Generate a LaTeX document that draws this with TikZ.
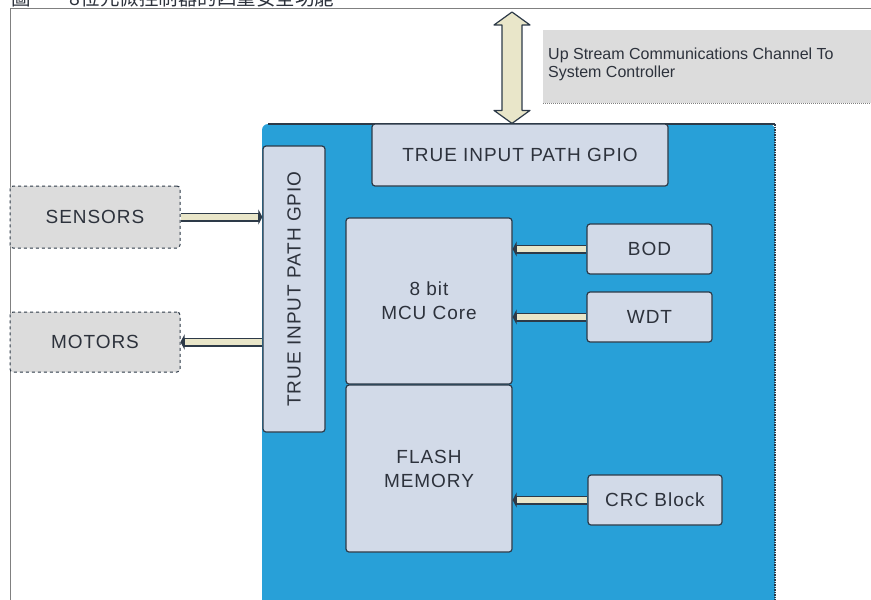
\documentclass[tikz,border=0pt]{standalone}
\usepackage{fontspec}
\setmainfont{Liberation Sans}
\newfontfamily\blockfont[LetterSpace=5]{Liberation Sans}
\newfontfamily\cjkfont{Noto Sans CJK TC}
\usetikzlibrary{positioning,arrows.meta,calc}

\definecolor{chipblue}{RGB}{40,160,216}
\definecolor{blockfill}{RGB}{210,218,232}
\definecolor{greyfill}{RGB}{220,220,220}
\definecolor{busfill}{RGB}{233,230,201}
\definecolor{edgedark}{RGB}{45,58,72}
\definecolor{labeltext}{RGB}{45,50,60}

\tikzset{
    blocklabel/.style={font=\blockfont\fontsize{19}{24}\selectfont, text=labeltext, align=center},
    chipblock/.style={blocklabel, draw=edgedark, line width=1.2pt, fill=blockfill,
        rounded corners=3pt, inner sep=0pt},
    sidebox/.style={blocklabel, draw=edgedark, dashed, line width=1pt, fill=greyfill,
        rounded corners=3pt, inner sep=0pt},
    busout/.style={line width=9pt, draw=edgedark, -{Triangle[length=4pt,width=15pt]}},
    busin/.style={line width=6pt, draw=busfill, shorten >=4pt},
    upstream/.style={draw=edgedark, fill=busfill, line width=1.2pt, line join=round},
}

\begin{document}
\begin{tikzpicture}[x=1pt, y=-1pt]
    \useasboundingbox (0,0) rectangle (871,600);

    % caption, cut at the top edge
    \node[anchor=base west, inner sep=0pt, text=labeltext,
          font=\cjkfont\fontsize{19.5}{20}\selectfont] (caption) at (11,5)
          {圖一　8位元微控制器的四重安全功能};

    % outer frame
    \draw[gray, line width=1pt] (10,610) -- (10,8) -- (880,8);

    % chip area
    \fill[chipblue, rounded corners=6pt] (262,620) -- (262,124) -- (775,124) -- (775,620) -- cycle;
    \draw[edgedark, line width=1.5pt] (268,124) -- (775,124);
    \draw[edgedark, line width=1.5pt, densely dotted] (775,124) -- (775,600);

    % note
    \node[fill=greyfill, minimum width=337pt, minimum height=73pt, inner sep=0pt,
          anchor=north west] (note) at (543,30) {};
    \draw[gray, densely dotted, line width=1pt] (note.south west) -- (note.south east);
    \node[anchor=west, align=left, text=labeltext, inner sep=0pt,
          font=\fontsize{16}{18}\selectfont] (notetext) at (548,64)
          {Up Stream Communications Channel To\\System Controller};

    % blocks
    \node[sidebox, minimum width=170pt, minimum height=62pt] (sens) at (95,217) {SENSORS};
    \node[sidebox, minimum width=170pt, minimum height=60pt] (motor) at (95,342) {MOTORS};
    \node[chipblock, minimum width=62pt, minimum height=286pt] (gpiol) at (294,289) {};
    \node[blocklabel, rotate=90] at (gpiol) {TRUE INPUT PATH GPIO};
    \node[chipblock, minimum width=296pt, minimum height=62pt] (gpiot) at (520,155) {TRUE INPUT PATH GPIO};
    \node[chipblock, minimum width=166pt, minimum height=166pt] (mcu) at (429,301) {8 bit\\MCU Core};
    \node[chipblock, minimum width=166pt, minimum height=167pt] (flash) at (429,468.5) {FLASH\\MEMORY};
    \node[chipblock, minimum width=125pt, minimum height=50pt] (bod) at (649.5,249) {BOD};
    \node[chipblock, minimum width=125pt, minimum height=50pt] (wdt) at (649.5,317) {WDT};
    \node[chipblock, minimum width=134pt, minimum height=50pt] (crc) at (655,500) {CRC Block};

    % up stream channel
    \coordinate (uptop) at (512,12);
    \coordinate (upbot) at (uptop |- gpiot.north);
    \draw[upstream] (uptop) -- ($(uptop)+(18,13)$) -- ($(uptop)+(10,13)$)
        -- ($(upbot)+(10,-13)$) -- ($(upbot)+(18,-13)$) -- (upbot)
        -- ($(upbot)+(-18,-13)$) -- ($(upbot)+(-10,-13)$)
        -- ($(uptop)+(-10,13)$) -- ($(uptop)+(-18,13)$) -- cycle;

    % buses
    \foreach \from/\to in {sens.east/sens.east -| gpiol.west,
                           gpiol.west |- motor.east/motor.east,
                           bod.west/bod.west -| mcu.east,
                           wdt.west/wdt.west -| mcu.east,
                           crc.west/crc.west -| flash.east} {
        \draw[busout] (\from) -- (\to);
        \draw[busin] (\from) -- (\to);
    }
\end{tikzpicture}
\end{document}
